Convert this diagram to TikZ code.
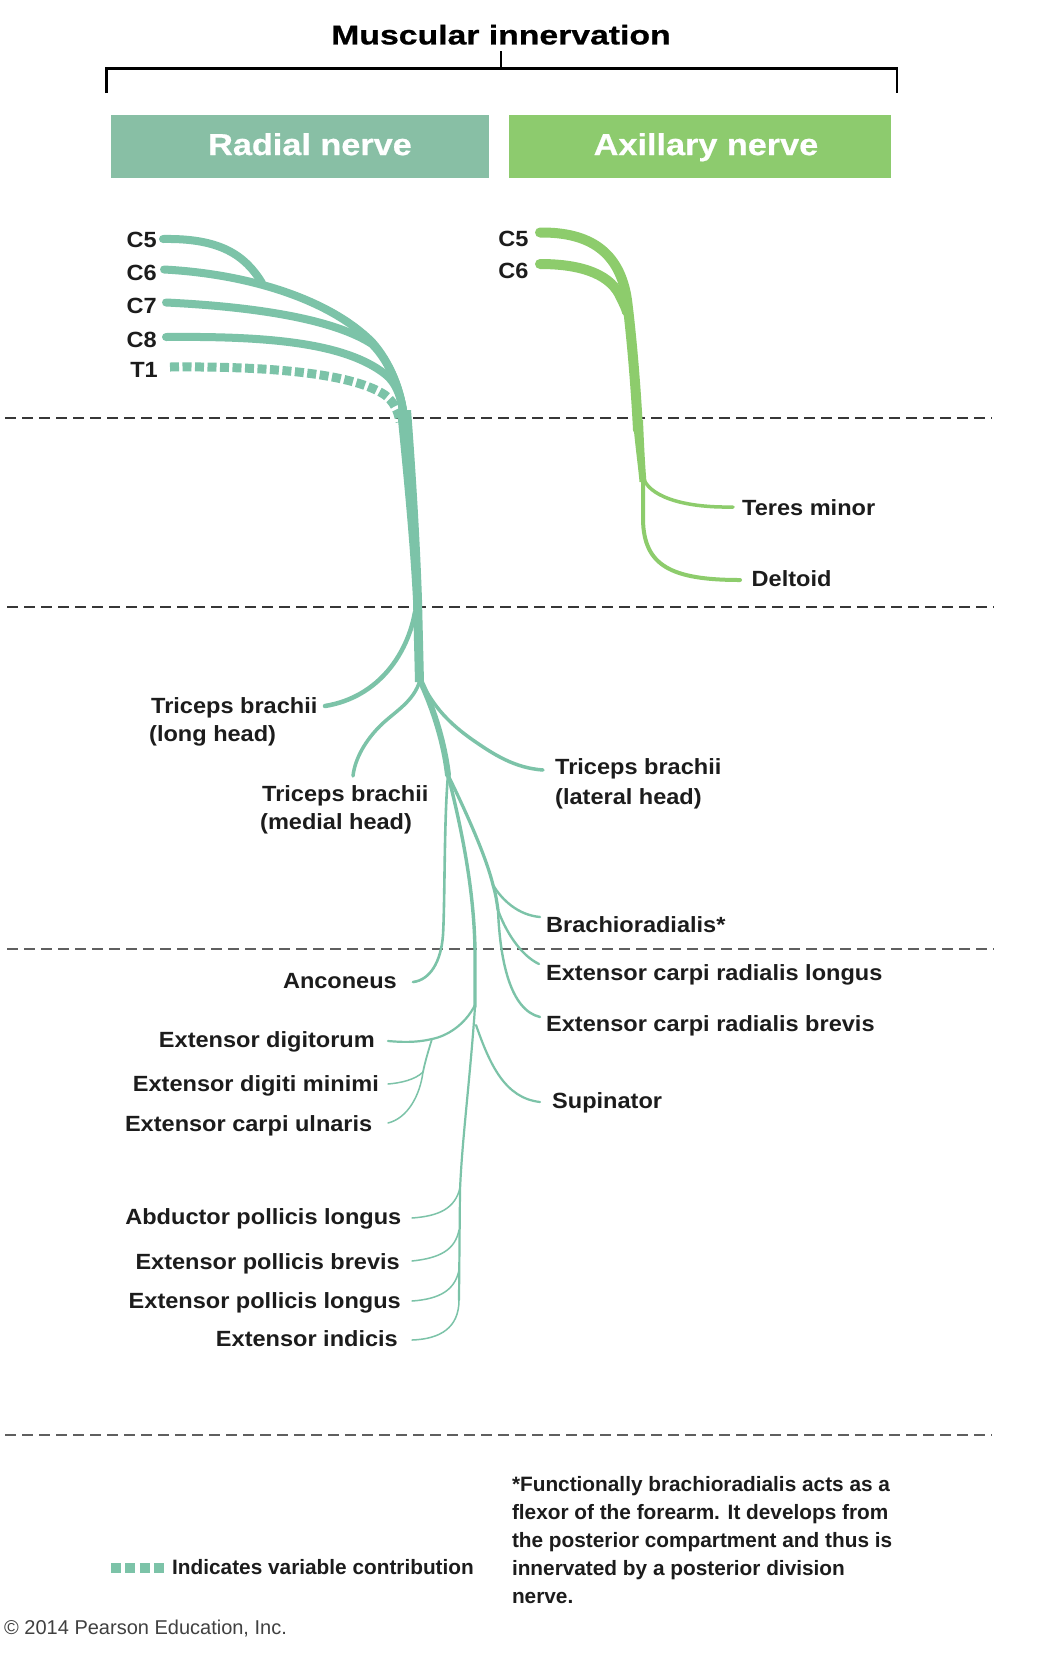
\documentclass[tikz,border=0pt]{standalone}
\usepackage{fontspec}
\setmainfont{Liberation Sans}
\newfontfamily\labfont{Liberation Sans Bold}[FakeStretch=1.07]
\newfontfamily\notefont{Liberation Sans Bold}
\newfontfamily\headfont{Liberation Sans Bold}[FakeStretch=1.13,FakeBold=0.6]
\newfontfamily\titlefont{Liberation Sans Bold}[FakeStretch=1.25,FakeBold=0.8]
\definecolor{radial}{RGB}{124,195,168}
\definecolor{radialbox}{RGB}{136,191,165}
\definecolor{axil}{RGB}{141,204,108}
\definecolor{axilbox}{RGB}{141,203,110}
\definecolor{ink}{RGB}{28,28,28}
\definecolor{divdark}{RGB}{55,55,55}
\definecolor{divlight}{RGB}{95,95,95}
\tikzset{
  lab/.style={font=\labfont\fontsize{22}{26}\selectfont, text=ink, inner sep=0pt, text height=15.75pt, text depth=0pt},
  labL/.style={lab, anchor=west},
  labR/.style={lab, anchor=east},
  note/.style={font=\notefont\fontsize{20.8}{26}\selectfont, text=ink, inner sep=0pt, text height=14.9pt, text depth=0pt, anchor=west},
  copyst/.style={font=\fontsize{20}{24}\selectfont, text=black!75, inner sep=0pt, text height=14.3pt, text depth=0pt, anchor=west},
  titlest/.style={font=\titlefont\fontsize{27}{30}\selectfont, text=black, inner sep=0pt, text height=19.4pt, text depth=0pt},
  head/.style={font=\headfont\fontsize{30.3}{34}\selectfont, text=white, inner sep=0pt, text height=21.7pt, text depth=0pt},
  box/.style={draw=none, inner sep=0pt},
  bracket/.style={draw=black, line width=2.2pt},
  nerveR/.style={draw=radial, line width=#1pt, line cap=round},
  nerveA/.style={draw=axil, line width=#1pt, line cap=round},
  divider/.style={draw=#1, line width=1.8pt, dash pattern=on 11pt off 6pt},
}
\begin{document}
\begin{tikzpicture}[x=1pt,y=-1pt]
\useasboundingbox (0,0) rectangle (1050,1655);
\fill[white] (0,0) rectangle (1050,1655);

% ---------- title and bracket ----------
\node[titlest] (title) at (501,34.7) {Muscular innervation};
\coordinate (brL) at (106.5,93);
\coordinate (brR) at (897,93);
\coordinate (brT) at (501,51);
\draw[bracket] (brL) -- (106.5,68.5) -- (897,68.5) -- (brR);
\draw[bracket] (brT) -- (501,68.5);

% ---------- header boxes ----------
\node[box, fill=radialbox, minimum width=377.8pt, minimum height=63.3pt] (radbox) at (299.7,146.65) {};
\node[box, fill=axilbox, minimum width=382.1pt, minimum height=63.3pt] (axbox) at (700.25,146.65) {};
\node[head] (radtxt) at (310,144.2) {Radial nerve};
\node[head] (axtxt) at (706,144.2) {Axillary nerve};

% ---------- dividers ----------
\coordinate (d1a) at (5,417.7);  \coordinate (d1b) at (992,417.7);
\coordinate (d2a) at (7,606.7);  \coordinate (d2b) at (994,606.7);
\coordinate (d3a) at (7,949.3);  \coordinate (d3b) at (994,949.3);
\coordinate (d4a) at (5,1435);   \coordinate (d4b) at (992,1435);
\draw[divider=divdark] (d1a) -- (d1b);
\draw[divider=divdark] (d2a) -- (d2b);
\draw[divider=divlight] (d3a) -- (d3b);
\draw[divider=divlight] (d4a) -- (d4b);

% ---------- radial nerve roots ----------
\coordinate (r5) at (163,239);
\coordinate (r6) at (164,269.5);
\coordinate (r7) at (166,302.5);
\coordinate (r8) at (166,337);
\coordinate (r1) at (170,367);
\coordinate (rj) at (404,420);
\coordinate (r56) at (262,283);
\draw[nerveR=9, line cap=butt, dash pattern=on 9pt off 3.5pt] (r1) .. controls (280,366) and (355,375) .. (385,395) .. controls (393,401) and (398,410) .. (400,422);
\draw[nerveR=8] (r5) .. controls (220,238) and (245,255) .. (r56);
\draw[nerveR=8] (r6) .. controls (250,274) and (330,300) .. (372,342) .. controls (390,362) and (402,392) .. (rj);
\draw[nerveR=8] (r7) .. controls (260,307) and (335,320) .. (372,344) .. controls (390,362) and (402,392) .. (rj);
\draw[nerveR=8] (r8) .. controls (270,336) and (345,343) .. (385,374) .. controls (396,382) and (403,400) .. (rj);

% trunk
\coordinate (bp1) at (420,680);
\fill[radial] (397,410) .. controls (402,460) and (410,540) .. (413,600) -- (415,682) -- (424,682) -- (422,600) .. controls (420,540) and (415,460) .. (411,410) -- cycle;

% upper arm branches
\coordinate (tlh) at (325,706);
\coordinate (tmh) at (353,776);
\coordinate (tlat) at (543,770);
\coordinate (bp3) at (448,775);
\draw[nerveR=4.5] (415,612) .. controls (408,652) and (380,697) .. (tlh);
\draw[nerveR=3.5] (bp1) .. controls (414,702) and (394,712) .. (380,726) .. controls (366,740) and (355,758) .. (tmh);
\draw[nerveR=3.5] (422,683) .. controls (432,703) and (445,720) .. (470,738) .. controls (494,755) and (515,768) .. (tlat);
\draw[nerveR=6] (bp1) .. controls (432,705) and (444,740) .. (bp3);

% forearm lines
\coordinate (anc) at (413,982);
\coordinate (bm) at (475,1007);
\coordinate (brp) at (493,885);
\coordinate (ecrp) at (498,910);
\draw[nerveR=2.6] (bp3) .. controls (444,820) and (445,900) .. (443,935) .. controls (441,962) and (430,980) .. (anc);
\draw[nerveR=3.4] (bp3) .. controls (462,830) and (474,890) .. (475,950) -- (bm);
\draw[nerveR=3.2] (bp3) .. controls (470,820) and (487,860) .. (brp) .. controls (496,895) and (497,903) .. (ecrp);
\coordinate (brE) at (540,917);
\coordinate (ecrlE) at (539,964);
\coordinate (ecrbE) at (540,1017);
\draw[nerveR=2.4] (brp) .. controls (502,900) and (518,915) .. (brE);
\draw[nerveR=2.4] (ecrp) .. controls (505,930) and (520,955) .. (ecrlE);
\draw[nerveR=2.4] (ecrp) .. controls (500,960) and (510,1010) .. (ecrbE);

% posterior interosseous part
\coordinate (edp) at (432,1039);
\coordinate (edE) at (388,1041);
\coordinate (edmp) at (423,1072);
\coordinate (edmE) at (388,1084);
\coordinate (ecuE) at (388,1123);
\coordinate (supE) at (540,1102);
\draw[nerveR=2.2] (475,1005) .. controls (465,1025) and (447,1036) .. (edp) .. controls (415,1043) and (400,1042) .. (edE);
\draw[nerveR=1.8] (edp) .. controls (428,1052) and (425,1062) .. (edmp);
\draw[nerveR=1.5] (edmp) .. controls (415,1080) and (400,1083) .. (edmE);
\draw[nerveR=1.5] (edmp) .. controls (420,1095) and (408,1118) .. (ecuE);
\draw[nerveR=2.2] (476,1025) .. controls (490,1065) and (505,1098) .. (supE);
\coordinate (lowp) at (459,1300);
\draw[nerveR=2.2] (bm) .. controls (470,1080) and (462,1140) .. (460,1190) -- (lowp);
\coordinate (aplE) at (412,1218);
\coordinate (epbE) at (412,1261);
\coordinate (eplE) at (412,1301);
\coordinate (eiE) at (412,1340);
\draw[nerveR=1.5] (460,1188) .. controls (455,1208) and (440,1216) .. (aplE);
\draw[nerveR=1.5] (459,1230) .. controls (455,1250) and (440,1258) .. (epbE);
\draw[nerveR=1.5] (459,1270) .. controls (455,1290) and (440,1299) .. (eplE);
\draw[nerveR=1.5] (lowp) .. controls (459,1328) and (440,1339) .. (eiE);

% ---------- axillary nerve ----------
\coordinate (a5) at (540,232.5);
\coordinate (a6) at (540,264);
\coordinate (ab) at (643,477);
\coordinate (tmE) at (733,507);
\coordinate (delE) at (740,580);
\draw[nerveA=10] (a6) .. controls (585,264) and (612,276) .. (621,298) .. controls (624,304) and (626,308) .. (627,312);
\draw[nerveA=10] (a5) .. controls (590,232) and (620,252) .. (627,300) .. controls (632,340) and (636,390) .. (638,430);
\fill[axil] (633,420) .. controls (635,445) and (638,465) .. (639.5,482) -- (646.5,482) .. controls (645,465) and (644,445) .. (643,420) -- cycle;
\draw[nerveA=3.5] (ab) .. controls (648,495) and (680,508) .. (tmE);
\draw[nerveA=4] (ab) -- (643,520) .. controls (644,565) and (670,580) .. (delE);

% ---------- labels ----------
\node[labR] (lc5) at (157,239.5) {C5};
\node[labR] (lc6) at (157,272.5) {C6};
\node[labR] (lc7) at (157,305.7) {C7};
\node[labR] (lc8) at (157,339.5) {C8};
\node[labR] (lt1) at (158,369.5) {T1};
\node[labR] (la5) at (528.7,238.5) {C5};
\node[labR] (la6) at (528.7,271) {C6};
\node[labL] (lteres) at (742,507.5) {Teres minor};
\node[labL] (ldelt) at (751.5,578.5) {Deltoid};

\node[labL] (llh1) at (151,706) {Triceps brachii};
\node[labL] (llh2) at (149,734) {(long head)};
\node[labL] (lmh1) at (262,794) {Triceps brachii};
\node[labL] (lmh2) at (260,822) {(medial head)};
\node[labL] (lla1) at (555,767) {Triceps brachii};
\node[labL] (lla2) at (555,797) {(lateral head)};

\node[labL] (lbr) at (546,925) {Brachioradialis*};
\node[labL] (lecrl) at (546,973) {Extensor carpi radialis longus};
\node[labL] (lecrb) at (546,1024) {Extensor carpi radialis brevis};
\node[labL] (lsup) at (552,1101) {Supinator};

\node[labR] (lanc) at (397,981) {Anconeus};
\node[labR] (led) at (375,1040) {Extensor digitorum};
\node[labR] (ledm) at (379,1083.5) {Extensor digiti minimi};
\node[labR] (lecu) at (372.5,1123.5) {Extensor carpi ulnaris};
\node[labR] (lapl) at (401.5,1217) {Abductor pollicis longus};
\node[labR] (lepb) at (400,1261.5) {Extensor pollicis brevis};
\node[labR] (lepl) at (401,1300.5) {Extensor pollicis longus};
\node[labR] (lei) at (398,1339) {Extensor indicis};

% ---------- legend & footnote ----------
\coordinate (lgA) at (111,1568);
\coordinate (lgB) at (164,1568);
\draw[draw=radial, line width=10pt, dash pattern=on 10pt off 4.3pt] (lgA) -- (lgB);
\node[note] (lgtxt) at (172,1567.5) {Indicates variable contribution};

\node[note] (fn1) at (511.8,1484.5) {*Functionally brachioradialis acts as a};
\node[note] (fn2) at (511.8,1512) {flexor of the forearm. It develops from};
\node[note] (fn3) at (511.8,1540) {the posterior compartment and thus is};
\node[note] (fn4) at (511.8,1568) {innervated by a posterior division};
\node[note] (fn5) at (511.8,1596) {nerve.};

\node[copyst] (copy) at (4,1627.5) {\textcopyright\ 2014 Pearson Education, Inc.};
\end{tikzpicture}
\end{document}
